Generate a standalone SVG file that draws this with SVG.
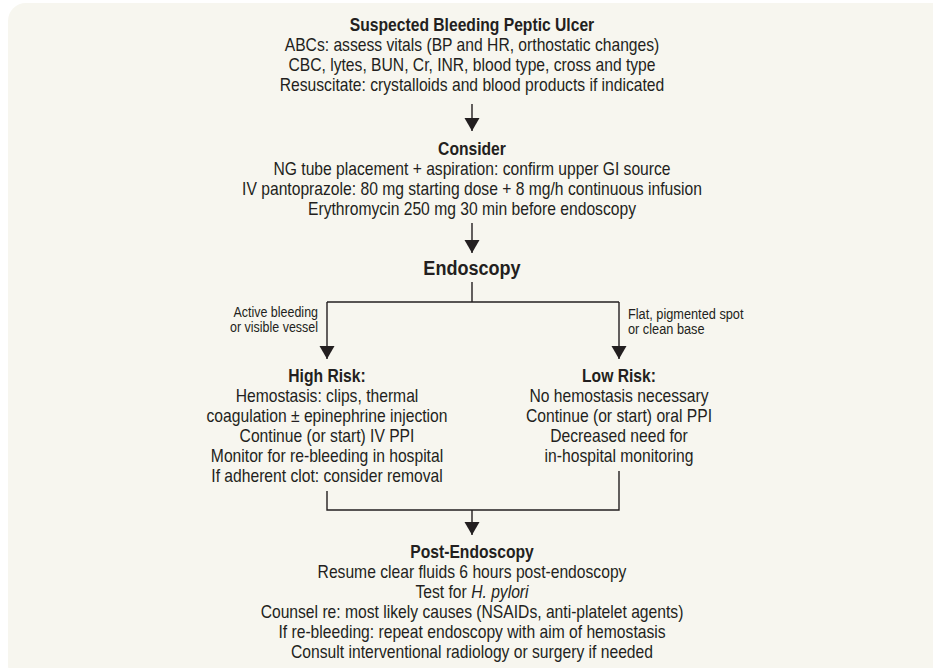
<svg xmlns="http://www.w3.org/2000/svg" width="933" height="668" viewBox="0 0 933 668">
<style>
text{font-family:"Liberation Sans",Arial,sans-serif;fill:#231f20;text-anchor:middle;font-size:17.5px}
.b{font-weight:bold}
.big{font-size:21px;font-weight:bold}
.lab{font-size:14.5px}
.l{text-anchor:end}
.r{text-anchor:start}
.c{fill:none;stroke:#231f20;stroke-width:1.4}
</style>
<defs>
<marker id="ah" markerUnits="userSpaceOnUse" markerWidth="14" markerHeight="16" refX="13" refY="7.5" orient="auto" viewBox="0 0 14 16">
<path d="M0,0 L13,7.5 L0,15 z" fill="#231f20"/>
</marker>
</defs>
<rect x="8" y="3" width="980" height="680" rx="18" fill="#f7f6ef"/>
<g id="connectors">
<path class="c" d="M472,104 V131" marker-end="url(#ah)"/>
<path class="c" d="M472,223 V253" marker-end="url(#ah)"/>
<path class="c" d="M472,282 V302"/>
<path class="c" d="M327,302 H619"/>
<path class="c" d="M327,302 V359" marker-end="url(#ah)"/>
<path class="c" d="M619,302 V359" marker-end="url(#ah)"/>
<path class="c" d="M327,491 V510 H619 V471"/>
<path class="c" d="M472,510 V535" marker-end="url(#ah)"/>
</g>
<g id="start" transform="translate(472 0) scale(0.895 1)">
<text class="b" x="0" y="31">Suspected Bleeding Peptic Ulcer</text>
<text x="0" y="51">ABCs: assess vitals (BP and HR, orthostatic changes)</text>
<text x="0" y="71">CBC, lytes, BUN, Cr, INR, blood type, cross and type</text>
<text x="0" y="91">Resuscitate: crystalloids and blood products if indicated</text>
</g>
<g id="consider" transform="translate(472 0) scale(0.895 1)">
<text class="b" x="0" y="155">Consider</text>
<text x="0" y="175">NG tube placement + aspiration: confirm upper GI source</text>
<text x="0" y="195">IV pantoprazole: 80 mg starting dose + 8 mg/h continuous infusion</text>
<text x="0" y="215">Erythromycin 250 mg 30 min before endoscopy</text>
</g>
<g id="endoscopy" transform="translate(472 0) scale(0.86 1)">
<text class="big" x="0" y="275">Endoscopy</text>
</g>
<g id="label-high" transform="translate(318 0) scale(0.86 1)">
<text class="lab l" x="0" y="317">Active bleeding</text>
<text class="lab l" x="0" y="332">or visible vessel</text>
</g>
<g id="label-low" transform="translate(628 0) scale(0.88 1)">
<text class="lab r" x="0" y="319">Flat, pigmented spot</text>
<text class="lab r" x="0" y="334">or clean base</text>
</g>
<g id="high-risk" transform="translate(327 0) scale(0.895 1)">
<text class="b" x="0" y="382">High Risk:</text>
<text x="0" y="402">Hemostasis: clips, thermal</text>
<text x="0" y="422">coagulation ± epinephrine injection</text>
<text x="0" y="442">Continue (or start) IV PPI</text>
<text x="0" y="462">Monitor for re-bleeding in hospital</text>
<text x="0" y="482">If adherent clot: consider removal</text>
</g>
<g id="low-risk" transform="translate(619 0) scale(0.895 1)">
<text class="b" x="0" y="382">Low Risk:</text>
<text x="0" y="402">No hemostasis necessary</text>
<text x="0" y="422">Continue (or start) oral PPI</text>
<text x="0" y="442">Decreased need for</text>
<text x="0" y="462">in-hospital monitoring</text>
</g>
<g id="post" transform="translate(472 0) scale(0.895 1)">
<text class="b" x="0" y="558">Post-Endoscopy</text>
<text x="0" y="578">Resume clear fluids 6 hours post-endoscopy</text>
<text x="0" y="598">Test for <tspan font-style="italic">H. pylori</tspan></text>
<text x="0" y="618">Counsel re: most likely causes (NSAIDs, anti-platelet agents)</text>
<text x="0" y="638">If re-bleeding: repeat endoscopy with aim of hemostasis</text>
<text x="0" y="658">Consult interventional radiology or surgery if needed</text>
</g>
</svg>
